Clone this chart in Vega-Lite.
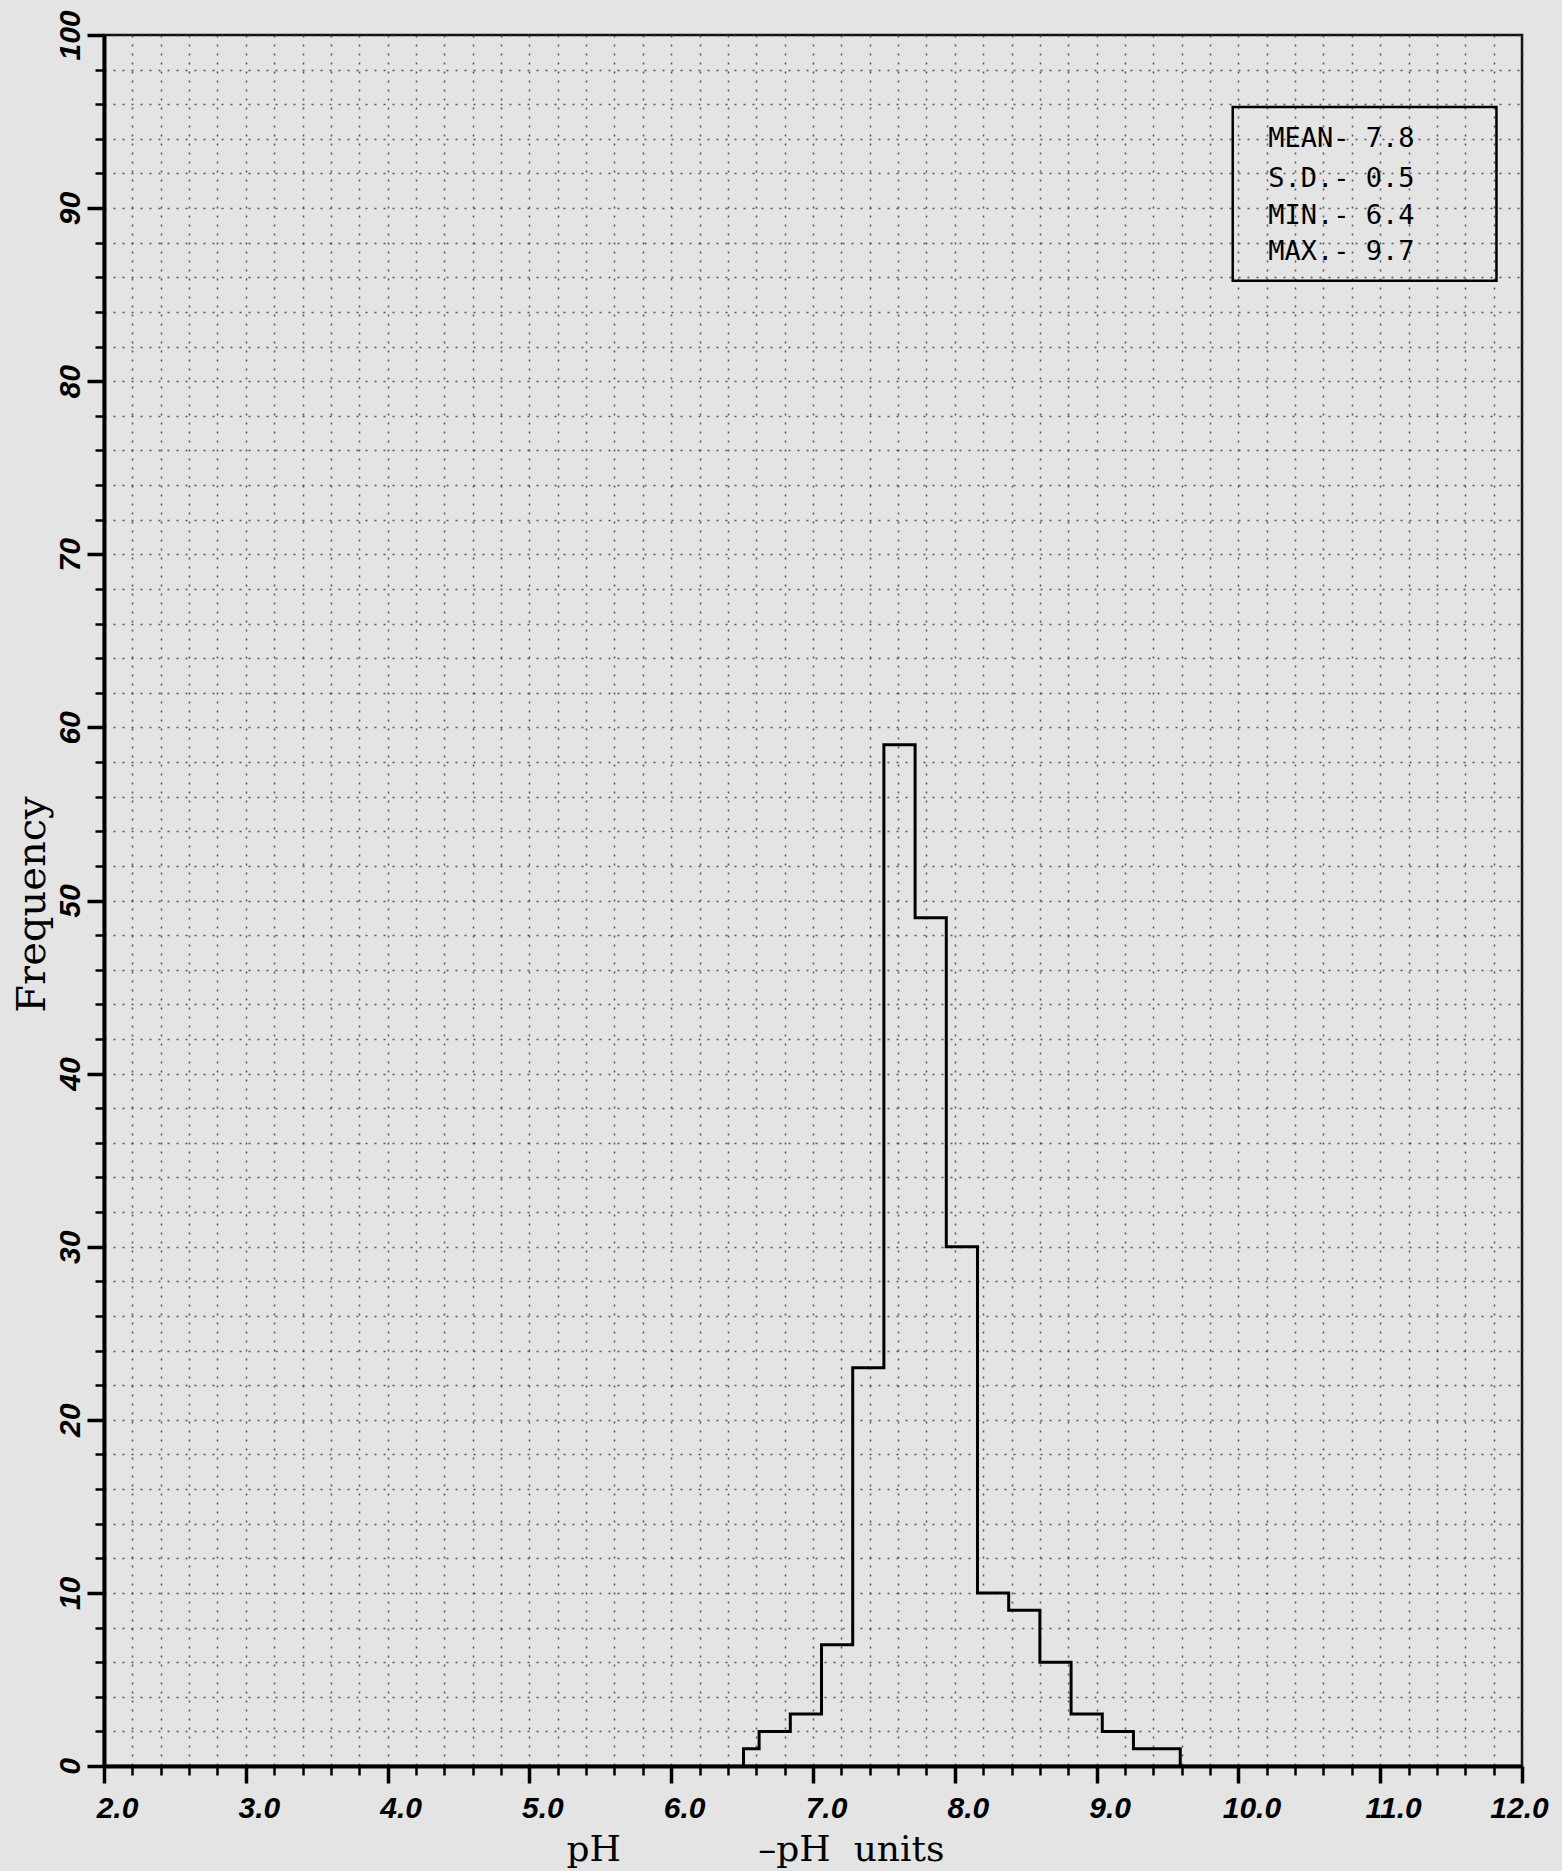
{
  "$schema": "https://vega.github.io/schema/vega-lite/v6.json",
  "width": 1418,
  "height": 1731,
  "autosize": {"type": "none"},
  "padding": {"left": 104, "top": 35, "right": 40, "bottom": 105},
  "background": "#e4e4e4",
  "config": {
    "view": {"stroke": "#111", "strokeWidth": 2.5},
    "axis": {
      "domainColor": "#000",
      "domainWidth": 4,
      "tickColor": "#000",
      "labelColor": "#000",
      "titleColor": "#000",
      "labelFont": "Liberation Sans",
      "labelFontSize": 30,
      "labelFontStyle": "italic",
      "labelFontWeight": "bold",
      "labelOverlap": false,
      "labelFlush": false,
      "grid": true,
      "gridDash": [2, 7],
      "gridColor": "#333333",
      "gridWidth": 1.5,
      "gridOpacity": 0.8
    }
  },
  "datasets": {
    "hist": [
      {"i": 0, "pH": 6.51, "freq": 0},
      {"i": 1, "pH": 6.51, "freq": 1},
      {"i": 2, "pH": 6.73, "freq": 2},
      {"i": 3, "pH": 6.95, "freq": 3},
      {"i": 4, "pH": 7.17, "freq": 7},
      {"i": 5, "pH": 7.39, "freq": 23},
      {"i": 6, "pH": 7.61, "freq": 59},
      {"i": 7, "pH": 7.83, "freq": 49},
      {"i": 8, "pH": 8.05, "freq": 30},
      {"i": 9, "pH": 8.27, "freq": 10},
      {"i": 10, "pH": 8.49, "freq": 9},
      {"i": 11, "pH": 8.71, "freq": 6},
      {"i": 12, "pH": 8.93, "freq": 3},
      {"i": 13, "pH": 9.15, "freq": 2},
      {"i": 14, "pH": 9.37, "freq": 1},
      {"i": 15, "pH": 9.59, "freq": 1},
      {"i": 16, "pH": 9.59, "freq": 0}
    ],
    "box": [
      {"pH": 9.96, "pH2": 11.82, "freq": 85.8, "freq2": 95.84}
    ],
    "stats": [
      {"pH": 10.21, "freq": 93.55, "text": "MEAN- 7.8"},
      {"pH": 10.21, "freq": 91.24, "text": "S.D.- 0.5"},
      {"pH": 10.21, "freq": 89.08, "text": "MIN.- 6.4"},
      {"pH": 10.21, "freq": 87.0, "text": "MAX.- 9.7"}
    ]
  },
  "encoding": {
    "x": {
      "field": "pH",
      "type": "quantitative",
      "scale": {"domain": [2, 12], "nice": false, "zero": false},
      "axis": {
        "values": [2,2.2,2.4,2.6,2.8,3,3.2,3.4,3.6,3.8,4,4.2,4.4,4.6,4.8,5,5.2,5.4,5.6,5.8,6,6.2,6.4,6.6,6.8,7,7.2,7.4,7.6,7.8,8,8.2,8.4,8.6,8.8,9,9.2,9.4,9.6,9.8,10,10.2,10.4,10.6,10.8,11,11.2,11.4,11.6,11.8,12],
        "labelExpr": "datum.value % 1 === 0 ? format(datum.value, '.1f') : ''",
        "labelBaseline": "top",
        "labelPadding": 10,
        "labelOffset": {"condition": {"test": "datum.value === 12", "value": -3}, "value": 13},
        "tickSize": {"condition": {"test": "datum.value % 1 === 0", "value": 17}, "value": 9},
        "tickWidth": {"condition": {"test": "datum.value % 1 === 0", "value": 3.5}, "value": 2.5},
        "title": "pH\u00a0\u00a0\u00a0\u00a0\u00a0\u00a0\u00a0\u00a0\u00a0\u00a0\u00a0\u00a0–pH\u00a0\u00a0units",
        "titleFont": "DejaVu Serif",
        "titleFontSize": 36,
        "titleFontWeight": "normal",
        "titleAlign": "center",
        "titleBaseline": "alphabetic",
        "titleX": 651,
        "titleY": 94
      }
    },
    "y": {
      "field": "freq",
      "type": "quantitative",
      "scale": {"domain": [0, 100], "nice": false},
      "axis": {
        "values": [0,2,4,6,8,10,12,14,16,18,20,22,24,26,28,30,32,34,36,38,40,42,44,46,48,50,52,54,56,58,60,62,64,66,68,70,72,74,76,78,80,82,84,86,88,90,92,94,96,98,100],
        "labelExpr": "datum.value % 10 === 0 ? datum.label : ''",
        "labelAngle": -90,
        "labelAlign": "center",
        "labelBaseline": "bottom",
        "labelPadding": 2,
        "tickSize": {"condition": {"test": "datum.value % 10 === 0", "value": 17}, "value": 9},
        "tickWidth": {"condition": {"test": "datum.value % 10 === 0", "value": 3.5}, "value": 2.5},
        "title": "Frequency",
        "titleFont": "DejaVu Serif",
        "titleFontSize": 40,
        "titleFontWeight": "normal",
        "titleAngle": 270,
        "titleAlign": "center",
        "titleBaseline": "alphabetic",
        "titleX": -60,
        "titleY": 869
      }
    }
  },
  "layer": [
    {
      "data": {"name": "hist"},
      "mark": {"type": "line", "interpolate": "step", "color": "#000", "strokeWidth": 3},
      "encoding": {"order": {"field": "i", "type": "quantitative"}}
    },
    {
      "data": {"name": "box"},
      "mark": {"type": "rect", "fill": "transparent", "stroke": "#000", "strokeWidth": 2.5},
      "encoding": {"x2": {"field": "pH2"}, "y2": {"field": "freq2"}}
    },
    {
      "data": {"name": "stats"},
      "mark": {"type": "text", "font": "DejaVu Sans Mono", "fontSize": 27, "align": "left", "baseline": "alphabetic", "color": "#000"},
      "encoding": {"text": {"field": "text"}}
    }
  ]
}
